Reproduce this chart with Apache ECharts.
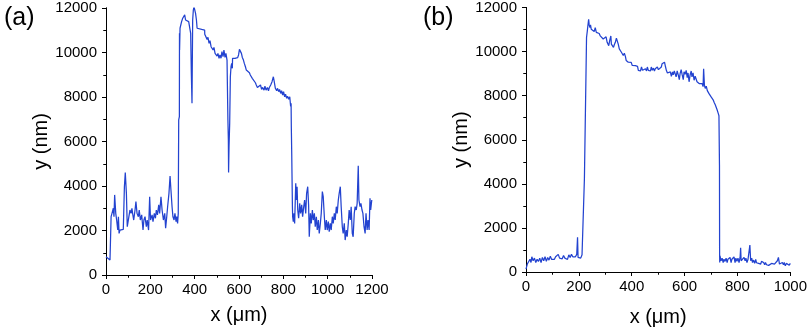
<!DOCTYPE html>
<html><head><meta charset="utf-8">
<script src="https://cdn.jsdelivr.net/npm/echarts@6/dist/echarts.min.js"></script>
<style>html,body{margin:0;padding:0;background:#fff}#c{width:810px;height:332px}</style>
</head><body><div id="c"></div>
<script>
// Panel (a)
const ax = [0,18,22,23,27,33,36,39,44,48,53,56,59,63,71,78,83,87,92,96,105,108,113,117,120,125,131,135,140,146,150,155,161,167,171,176,182,186,192,197,201,208,212,218,223,227,232,238,242,248,253,259,265,269,274,278,284,289,293,298,302,307,311,316,319,323,326,328,331,331.5,332,334,337,341,346,350,355,359,364,368,373,377,382,385,388,389,391,394,397,401,404,408,411,417,432,445,445.5,451,456,460,465,469,474,478,483,487,492,496,501,505,510,514,519,523,528,532,537,541,546,549,550,552,553,555,558,561,564,567,570,571,576,582,588,594,598,602,606,611,615,620,624,629,633,638,642,647,651,656,660,665,669,674,678,683,687,691,697,702,706,713,717,722,728,733,737,743,749,755,759,764,770,774,779,783,788,792,797,801,806,810,815,819,824,829,832,833,835,836,838,839,841,842,845,848,851,856,859,862,865,869,874,878,883,887,892,896,901,905,910,914,917,922,926,931,935,940,944,949,953,958,962,967,971,976,980,985,989,994,998,1003,1007,1012,1016,1021,1025,1030,1034,1039,1043,1048,1052,1057,1061,1066,1070,1075,1079,1084,1088,1093,1097,1102,1106,1111,1115,1120,1124,1129,1133,1138,1141,1146,1150,1155,1159,1164,1169,1173,1178,1182,1187,1191,1194,1199];
const ay = [824,674,630,2620,2770,3000,2620,3600,2770,2470,2020,2620,1870,2020,2020,2050,3970,4610,3670,2170,2130,2920,2770,3000,2770,2470,2920,3300,2770,2620,2920,2470,2700,2020,2470,2620,2170,2470,2020,3520,2470,2700,2400,2770,2550,2920,2700,3150,2770,3520,2920,2470,2770,2100,2620,3070,3670,4450,3820,3070,2620,2470,2770,2400,2620,2320,2770,6970,7120,10860,10110,11090,11160,11390,11540,11460,11690,11460,11540,11430,11390,11340,10860,9060,7720,9060,11460,11910,12060,11990,11760,11460,11090,11040,11040,11010,10820,10740,10590,10680,10410,10530,10260,10340,10110,10230,9960,10040,9840,9960,9740,9890,9740,10040,9810,10110,9780,9960,9660,9590,6970,6070,4610,5770,6820,8910,9360,9510,9290,9740,9780,9740,9780,9770,9890,10140,10110,9960,9780,9660,9510,9360,9210,9290,9140,9090,8990,9030,8840,8880,8760,8640,8540,8430,8490,8430,8540,8340,8430,8310,8490,8310,8430,8280,8430,8540,8690,8910,8690,8390,8280,8390,8240,8340,8160,8280,8090,8240,8010,8130,7940,8040,7900,8010,7940,7570,7720,6670,5390,4570,3070,2620,2400,2770,2320,4120,3370,3970,2920,2550,3220,2770,3150,2620,3070,3370,2770,3670,3970,3150,1720,2770,2320,2920,2470,2770,2170,2620,2020,2470,1870,2320,2770,3750,3520,2620,2020,2470,2020,2400,1950,2320,2020,2620,2320,2770,2470,3070,2770,3370,3670,3970,3070,2170,1870,2320,1570,2020,1720,2320,2920,2470,3070,1870,1720,2770,3070,2920,3220,4910,3370,3070,3220,2920,2770,2170,1870,2770,2020,2470,2020,3450,2920,3370];
// Panel (b)
const bx = [0,5,10,15,19,22,27,32,37,42,47,52,57,62,67,72,77,82,87,92,97,102,107,112,117,122,127,132,137,142,147,152,157,162,167,172,177,182,187,192,195,197,202,207,212,217,219,221,222,224,227,229,232,234,237,239,242,244,247,250,254,258,262,266,269,273,277,281,284,288,292,296,299,303,307,311,313,317,321,323,327,331,334,338,342,346,349,353,357,361,364,368,372,376,379,383,387,391,394,398,402,408,414,418,422,425,429,433,437,441,444,448,452,456,459,463,467,471,474,478,482,486,489,493,497,501,504,508,512,515,519,524,528,531,535,539,542,546,550,554,557,561,565,568,572,576,580,583,587,591,595,598,602,606,610,613,617,621,625,628,632,636,640,643,647,651,655,658,662,666,670,672,675,678,682,686,690,693,697,701,705,708,712,716,720,723,727,730,731,732,732.5,733,734,738,742,746,749,753,757,761,764,768,772,776,779,783,787,791,794,798,802,806,810,812,814,817,821,825,829,832,836,840,844,847,850,854,857,861,865,869,872,876,880,884,888,891,895,899,903,906,910,914,918,921,925,929,932,936,940,944,947,951,955,959,962,966,970,974,977,981,985,989,992,996,1000];
const by = [134,360,430,580,430,690,510,630,430,580,480,630,430,660,510,690,480,660,540,720,570,660,570,690,600,800,630,720,600,750,630,720,570,780,660,800,690,780,690,800,1580,660,730,630,780,690,780,4230,4230,6620,9000,10640,10940,11160,11460,11210,11090,11210,11010,10970,11090,10910,11090,10870,10910,10790,10820,10710,10640,10670,10570,10610,10490,10670,10420,10490,10270,10520,10710,10340,10370,10190,10310,10420,10610,10520,10340,10120,10040,9970,10010,9820,9930,9780,9600,9670,9520,9600,9450,9510,9370,9340,9360,9450,9330,9150,9220,9120,9300,9150,9220,9080,9220,9120,9300,9150,9220,9120,9300,9150,9250,9120,9220,9150,9300,9180,9120,9220,9300,9450,9520,9520,9300,9150,9030,9120,8970,9080,8880,9080,8940,9120,8970,8850,9120,8940,8730,9000,9180,8940,8730,9080,8970,9150,8820,9030,8630,8940,9120,8850,9030,8700,8880,8780,8630,8700,8550,8630,8480,8550,8410,9220,8480,8330,8430,8230,8290,8080,8140,7930,7960,7810,7690,7590,7510,7360,7210,7090,7060,4830,800,430,730,510,630,430,580,480,630,430,580,510,660,430,580,510,690,430,630,480,630,430,660,1100,510,580,430,660,510,630,430,580,510,1220,510,630,430,540,390,570,420,510,390,480,360,480,390,430,330,430,330,420,300,390,280,390,330,480,360,430,330,510,660,360,430,280,430,330,430,280,390,330,430,310,390];
const xTicksA = {min: 0, max: 1200, interval: 200};
const xTicksB = {min: 0, max: 1000, interval: 200};
const yTicks = {min: 0, max: 12000, interval: 2000};

const FONT = 'Liberation Sans, Arial, sans-serif';
const LINE = '#2343d0';
const axLine = {show: true, lineStyle: {color: '#000', width: 1}};
const plain = v => String(v);

function mainX(grid, t, gap) {
  return {gridIndex: grid, type: 'value', position: 'bottom', min: t.min, max: t.max, interval: t.interval,
    name: 'x (μm)', nameLocation: 'middle', nameGap: gap,
    nameTextStyle: {fontFamily: FONT, fontSize: 20, color: '#000'},
    axisLine: axLine, axisTick: {show: true, inside: false, length: 4, lineStyle: {color: '#000'}},
    minorTick: {show: true, splitNumber: 2, length: 2.5, lineStyle: {color: '#000'}},
    axisLabel: {fontFamily: FONT, fontSize: 15, color: '#000', margin: 7, formatter: plain},
    splitLine: {show: false}};
}
function mirrorX(grid, t) {
  return {gridIndex: grid, type: 'value', position: 'top', min: t.min, max: t.max, interval: t.interval,
    axisLine: axLine, axisTick: {show: true, inside: true, length: 4, lineStyle: {color: '#000'}},
    minorTick: {show: true, splitNumber: 2, length: 2.5, lineStyle: {color: '#000'}},
    axisLabel: {show: false}, splitLine: {show: false}};
}
function mainY(grid, gap) {
  return {gridIndex: grid, type: 'value', position: 'left', min: yTicks.min, max: yTicks.max, interval: yTicks.interval,
    name: 'y (nm)', nameLocation: 'middle', nameGap: gap,
    nameTextStyle: {fontFamily: FONT, fontSize: 20, color: '#000'},
    axisLine: axLine, axisTick: {show: true, inside: false, length: 4, lineStyle: {color: '#000'}},
    minorTick: {show: true, splitNumber: 2, length: 2.5, lineStyle: {color: '#000'}},
    axisLabel: {fontFamily: FONT, fontSize: 15, color: '#000', margin: 9, formatter: plain},
    splitLine: {show: false}};
}
function mirrorY(grid) {
  return {gridIndex: grid, type: 'value', position: 'right', min: yTicks.min, max: yTicks.max, interval: yTicks.interval,
    axisLine: axLine, axisTick: {show: true, inside: true, length: 4, lineStyle: {color: '#000'}},
    minorTick: {show: true, splitNumber: 2, length: 2.5, lineStyle: {color: '#000'}},
    axisLabel: {show: false}, splitLine: {show: false}};
}
const zip = (xs, ys) => xs.map((x, i) => [x, ys[i]]);

const chart = echarts.init(document.getElementById('c'), null, {renderer: 'canvas'});
chart.setOption({
  animation: false,
  backgroundColor: '#fff',
  title: [
    {text: '(a)', left: -1, top: 1, textStyle: {fontFamily: FONT, fontSize: 25, fontWeight: 'normal', color: '#000'}},
    {text: '(b)', left: 418, top: 1, textStyle: {fontFamily: FONT, fontSize: 25, fontWeight: 'normal', color: '#000'}}
  ],
  grid: [
    {left: 106, right: 438, top: 8, bottom: 57},
    {left: 526, right: 17, top: 7, bottom: 57}
  ],
  xAxis: [mainX(0, xTicksA, 30), mirrorX(0, xTicksA), mainX(1, xTicksB, 35), mirrorX(1, xTicksB)],
  yAxis: [mainY(0, 52), mirrorY(0), mainY(1, 52), mirrorY(1)],
  series: [
    {type: 'line', xAxisIndex: 0, yAxisIndex: 0, data: zip(ax, ay), showSymbol: false, clip: true,
     lineStyle: {color: LINE, width: 1.25}},
    {type: 'line', xAxisIndex: 2, yAxisIndex: 2, data: zip(bx, by), showSymbol: false, clip: true,
     lineStyle: {color: LINE, width: 1.25}}
  ]
});
</script></body></html>
